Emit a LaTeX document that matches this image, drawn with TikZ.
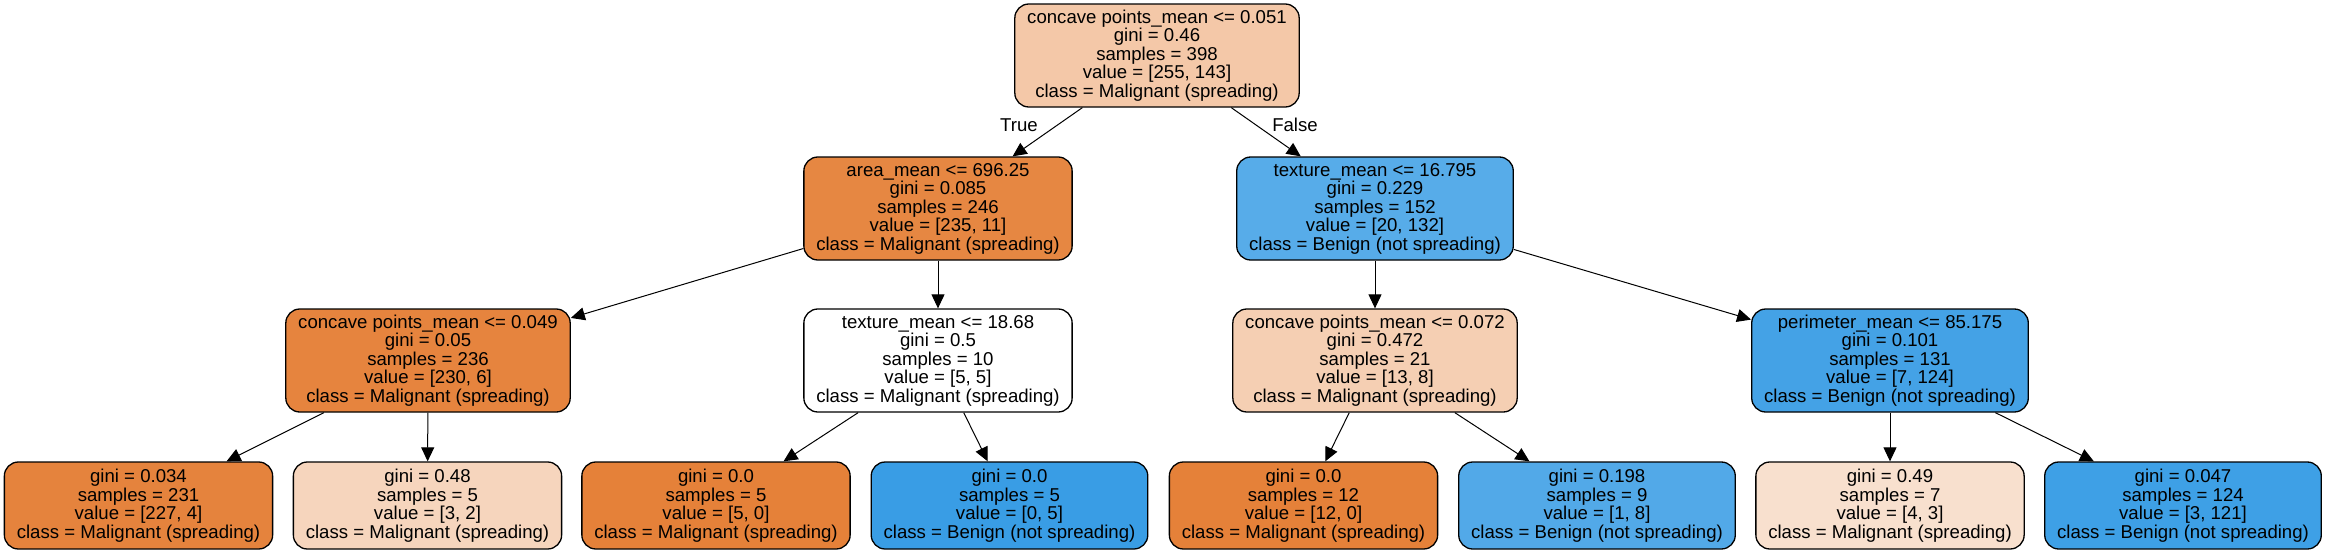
\documentclass[tikz,border=0pt]{standalone}
\usepackage{fontspec}
\setmainfont{Liberation Sans}
\usepackage{tikz}
\usetikzlibrary{positioning,arrows.meta}

\definecolor{rootc}{RGB}{244,200,168}
\definecolor{areac}{RGB}{230,135,66}
\definecolor{texac}{RGB}{87,172,233}
\definecolor{cpbc}{RGB}{230,132,62}
\definecolor{cpcc}{RGB}{245,207,179}
\definecolor{perc}{RGB}{68,162,230}
\definecolor{leafa}{RGB}{229,131,61}
\definecolor{leafb}{RGB}{246,213,189}
\definecolor{orng}{RGB}{229,129,57}
\definecolor{blu}{RGB}{57,157,229}
\definecolor{leaff}{RGB}{82,169,232}
\definecolor{leafg}{RGB}{248,224,206}
\definecolor{leafh}{RGB}{62,160,230}

\begin{document}
\begin{tikzpicture}[x=0.5pt,y=0.5pt,
	box/.style={draw=black,line width=0.65pt,rounded corners=7pt,align=center,
		inner xsep=6.2pt,inner ysep=0pt,font=\fontsize{9.3}{9.25}\selectfont},
	split/.style={box,minimum height=51.5pt},
	leaf/.style={box,minimum height=43.5pt},
	edge/.style={line width=0.5pt,-{Triangle[length=7pt,width=6.5pt]}},
	lbl/.style={font=\fontsize{9.3}{9.25}\selectfont,inner sep=0pt}]
	\useasboundingbox (0,0) rectangle (2326,-552);
	\coordinate (o) at (0,0);
	%% splits
	\node[split,fill=rootc,below right=55.5 and 1157 of o,anchor=center] (root)
		{concave points\_mean <= 0.051\\gini = 0.46\\samples = 398\\value = [255, 143]\\class = Malignant (spreading)};
	\node[split,fill=areac,below right=208.5 and 938 of o,anchor=center] (area)
		{area\_mean <= 696.25\\gini = 0.085\\samples = 246\\value = [235, 11]\\class = Malignant (spreading)};
	\node[split,fill=texac,below right=208.5 and 1375 of o,anchor=center] (texa)
		{texture\_mean <= 16.795\\gini = 0.229\\samples = 152\\value = [20, 132]\\class = Benign (not spreading)};
	\node[split,fill=cpbc,below right=360.5 and 428 of o,anchor=center] (cpb)
		{concave points\_mean <= 0.049\\gini = 0.05\\samples = 236\\value = [230, 6]\\class = Malignant (spreading)};
	\node[split,fill=white,below right=360.5 and 938 of o,anchor=center] (texb)
		{texture\_mean <= 18.68\\gini = 0.5\\samples = 10\\value = [5, 5]\\class = Malignant (spreading)};
	\node[split,fill=cpcc,below right=360.5 and 1375 of o,anchor=center] (cpc)
		{concave points\_mean <= 0.072\\gini = 0.472\\samples = 21\\value = [13, 8]\\class = Malignant (spreading)};
	\node[split,fill=perc,below right=360.5 and 1890 of o,anchor=center] (per)
		{perimeter\_mean <= 85.175\\gini = 0.101\\samples = 131\\value = [7, 124]\\class = Benign (not spreading)};
	%% leaves
	\node[leaf,fill=leafa,below right=505.5 and 138.5 of o,anchor=center] (la)
		{gini = 0.034\\samples = 231\\value = [227, 4]\\class = Malignant (spreading)};
	\node[leaf,fill=leafb,below right=505.5 and 427.5 of o,anchor=center] (lb)
		{gini = 0.48\\samples = 5\\value = [3, 2]\\class = Malignant (spreading)};
	\node[leaf,fill=orng,below right=505.5 and 716 of o,anchor=center] (lc)
		{gini = 0.0\\samples = 5\\value = [5, 0]\\class = Malignant (spreading)};
	\node[leaf,fill=blu,below right=505.5 and 1009.5 of o,anchor=center] (ld)
		{gini = 0.0\\samples = 5\\value = [0, 5]\\class = Benign (not spreading)};
	\node[leaf,fill=orng,below right=505.5 and 1303.5 of o,anchor=center] (le)
		{gini = 0.0\\samples = 12\\value = [12, 0]\\class = Malignant (spreading)};
	\node[leaf,fill=leaff,below right=505.5 and 1597 of o,anchor=center] (lf)
		{gini = 0.198\\samples = 9\\value = [1, 8]\\class = Benign (not spreading)};
	\node[leaf,fill=leafg,below right=505.5 and 1890 of o,anchor=center] (lg)
		{gini = 0.49\\samples = 7\\value = [4, 3]\\class = Malignant (spreading)};
	\node[leaf,fill=leafh,below right=505.5 and 2183 of o,anchor=center] (lh)
		{gini = 0.047\\samples = 124\\value = [3, 121]\\class = Benign (not spreading)};
	\node[lbl,below right=125 and 1019 of o,anchor=center] (ltrue) {True};
	\node[lbl,below right=125 and 1295 of o,anchor=center] (lfalse) {False};
	% edges
	\draw[edge] (root) -- (area);
	\draw[edge] (root) -- (texa);
	\draw[edge] (area) -- (cpb);
	\draw[edge] (area) -- (texb);
	\draw[edge] (texa) -- (cpc);
	\draw[edge] (texa) -- (per);
	\draw[edge] (cpb) -- (la);
	\draw[edge] (cpb) -- (lb);
	\draw[edge] (texb) -- (lc);
	\draw[edge] (texb) -- (ld);
	\draw[edge] (cpc) -- (le);
	\draw[edge] (cpc) -- (lf);
	\draw[edge] (per) -- (lg);
	\draw[edge] (per) -- (lh);
\end{tikzpicture}
\end{document}
